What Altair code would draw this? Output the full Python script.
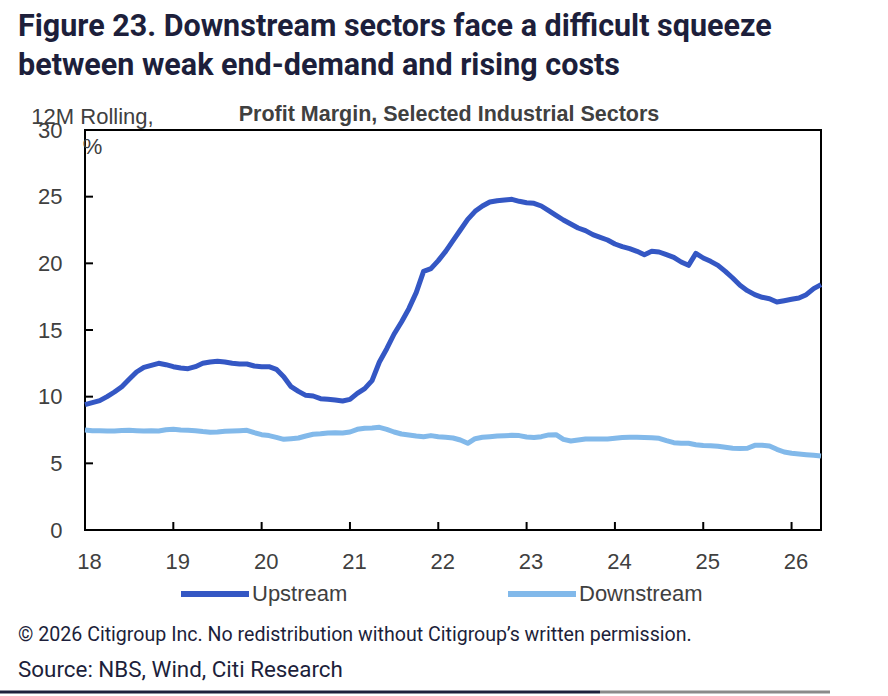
import altair as alt
import pandas as pd

# Monthly observations, Jan 2018 - May 2026 (12M rolling profit margin, %)
months = pd.date_range("2018-01-01", "2026-05-01", freq="MS")

upstream = [
    9.4, 9.55, 9.7, 10.0, 10.35, 10.75, 11.3, 11.85, 12.2, 12.35, 12.5, 12.4,
    12.25, 12.15, 12.1, 12.25, 12.5, 12.6, 12.65, 12.6, 12.5, 12.45, 12.45, 12.3,
    12.25, 12.25, 12.05, 11.5, 10.75, 10.4, 10.1, 10.05, 9.85, 9.8, 9.75, 9.68,
    9.8, 10.25, 10.6, 11.2, 12.6, 13.6, 14.7, 15.6, 16.6, 17.8, 19.4, 19.6,
    20.2, 20.9, 21.7, 22.5, 23.3, 23.9, 24.3, 24.6, 24.7, 24.75, 24.8, 24.65,
    24.55, 24.5, 24.3, 23.95, 23.6, 23.25, 22.95, 22.65, 22.45, 22.15, 21.95, 21.75,
    21.45, 21.25, 21.1, 20.9, 20.65, 20.9, 20.85, 20.65, 20.45, 20.1, 19.85, 20.75,
    20.4, 20.15, 19.85, 19.4, 18.9, 18.35, 17.95, 17.65, 17.45, 17.35, 17.1, 17.2,
    17.3, 17.4, 17.65, 18.1, 18.4,
]

downstream = [
    7.5, 7.45, 7.45, 7.43, 7.43, 7.47, 7.48, 7.45, 7.42, 7.45, 7.43, 7.52,
    7.55, 7.5, 7.48, 7.45, 7.38, 7.33, 7.35, 7.4, 7.43, 7.45, 7.48, 7.3,
    7.15, 7.08, 6.95, 6.8, 6.85, 6.9, 7.05, 7.18, 7.22, 7.28, 7.3, 7.27,
    7.35, 7.55, 7.63, 7.65, 7.7, 7.55, 7.35, 7.2, 7.13, 7.05, 7.0, 7.08,
    7.0, 6.95, 6.9, 6.75, 6.5, 6.85, 6.95, 7.0, 7.05, 7.07, 7.1, 7.08,
    6.98, 6.93, 7.0, 7.13, 7.15, 6.8, 6.68, 6.75, 6.82, 6.83, 6.82, 6.83,
    6.88, 6.93, 6.95, 6.95, 6.93, 6.92, 6.88, 6.7, 6.55, 6.5, 6.5, 6.4,
    6.33, 6.32, 6.28, 6.2, 6.13, 6.12, 6.13, 6.35, 6.35, 6.3, 6.05, 5.85,
    5.75, 5.7, 5.65, 5.6, 5.55,
]

series_names = ["Upstream", "Downstream"]
series_colors = ["#3457C4", "#82B9EA"]
y_ticks = [0, 5, 10, 15, 20, 25, 30]
x_ticks = [18, 19, 20, 21, 22, 23, 24, 25, 26]

title_lines = [
    "Figure 23. Downstream sectors face a difficult squeeze",
    "between weak end-demand and rising costs",
]
chart_subtitle = "Profit Margin, Selected Industrial Sectors"
y_title = ["12M Rolling,", "%"]
copyright_note = "\u00a9 2026 Citigroup Inc. No redistribution without Citigroup\u2019s written permission."
source_note = "Source: NBS, Wind, Citi Research"

# two-digit year on a continuous axis
t = [d.year - 2000 + (d.month - 1) / 12 for d in months]
df = pd.DataFrame({
    "t": t * 2,
    "v": upstream + downstream,
    "series": ["Upstream"] * len(t) + ["Downstream"] * len(t),
})

W, H = 736, 400
AXIS_FONT = "Liberation Sans"
HEAD_FONT = "Roboto"
GREY = "#404040"
NAVY = "#1d1f3b"

x_scale = alt.Scale(domain=[t[0], t[-1]], nice=False, zero=False)
y_scale = alt.Scale(domain=[0, 30], nice=False)

x_axis = alt.Axis(
    values=x_ticks, format="d", title=None, grid=False, domain=False,
    ticks=False, tickSize=0, labelFont=AXIS_FONT, labelFontSize=22,
    labelColor=GREY, labelPadding=21, labelFlush=False, labelOffset=4)
y_axis = alt.Axis(
    values=y_ticks, title=y_title, grid=False, domain=False,
    ticks=False, tickSize=0, labelFont=AXIS_FONT, labelFontSize=22,
    labelColor=GREY, labelPadding=23, labelFlush=False,
    titleAngle=0, titleAlign="center", titleBaseline="alphabetic",
    titleX=7, titleY=-7, titleFont=AXIS_FONT, titleFontSize=22,
    titleFontWeight="normal", titleColor=GREY, titleLineHeight=30)

lines = alt.Chart(df).mark_line(strokeWidth=5, strokeJoin="round").encode(
    x=alt.X("t:Q", scale=x_scale, axis=x_axis),
    y=alt.Y("v:Q", scale=y_scale, axis=y_axis),
    color=alt.Color("series:N", sort=series_names,
                    scale=alt.Scale(domain=series_names, range=series_colors),
                    legend=alt.Legend(
                        title=None, orient="none", legendX=93, legendY=427,
                        direction="horizontal", symbolType="stroke",
                        symbolSize=4624, symbolStrokeWidth=6,
                        labelFont=AXIS_FONT, labelFontSize=22,
                        labelColor=GREY, labelOffset=0, columnPadding=148,
                        padding=0)),
)

# inward tick marks on the left and bottom edges of the frame
ytick_df = pd.DataFrame({"v": y_ticks[1:-1]})
yticks = alt.Chart(ytick_df).mark_rule(color="black", strokeWidth=2).encode(
    y=alt.Y("v:Q", scale=y_scale, axis=y_axis),
    x=alt.value(0), x2=alt.value(8),
)
xtick_df = pd.DataFrame({"t": x_ticks[1:]})
xticks = alt.Chart(xtick_df).mark_rule(color="black", strokeWidth=2).encode(
    x=alt.X("t:Q", scale=x_scale, axis=x_axis),
    y=alt.value(H), y2=alt.value(H - 8),
)


def label(text, x, y, size, font, color, weight="normal", align="left"):
    return alt.Chart(pd.DataFrame({"txt": [text]})).mark_text(
        align=align, baseline="alphabetic", font=font, fontSize=size,
        fontWeight=weight, color=color,
    ).encode(text="txt:N", x=alt.value(x), y=alt.value(y))


heading1 = label(title_lines[0], -67, -94, 30.5, HEAD_FONT, NAVY, "bold")
heading2 = label(title_lines[1], -67, -55, 30.5, HEAD_FONT, NAVY, "bold")
sub = label(chart_subtitle, 364, -9, 21.5, AXIS_FONT, GREY, "bold", "center")
note1 = label(copyright_note, -67, 511, 19.6, HEAD_FONT, NAVY)
note2 = label(source_note, -67, 547, 22.4, HEAD_FONT, NAVY)


def divider(x0, x1, shade):
    return alt.Chart(pd.DataFrame({"k": [0]})).mark_rule(
        color=shade, strokeWidth=3).encode(
        x=alt.value(x0), x2=alt.value(x1), y=alt.value(562))


chart = alt.layer(
    lines, yticks, xticks, heading1, heading2, sub, note1, note2,
    divider(-85, 515, NAVY), divider(515, 745, "#8a8a8a"),
).properties(
    width=W, height=H,
    autosize=alt.AutoSizeParams(type="none"),
    padding={"left": 85, "top": 130, "right": 67, "bottom": 166},
    background="white",
).configure_view(stroke="black", strokeWidth=2)

chart.save("out.html", embed_options={"renderer": "svg", "actions": False})
